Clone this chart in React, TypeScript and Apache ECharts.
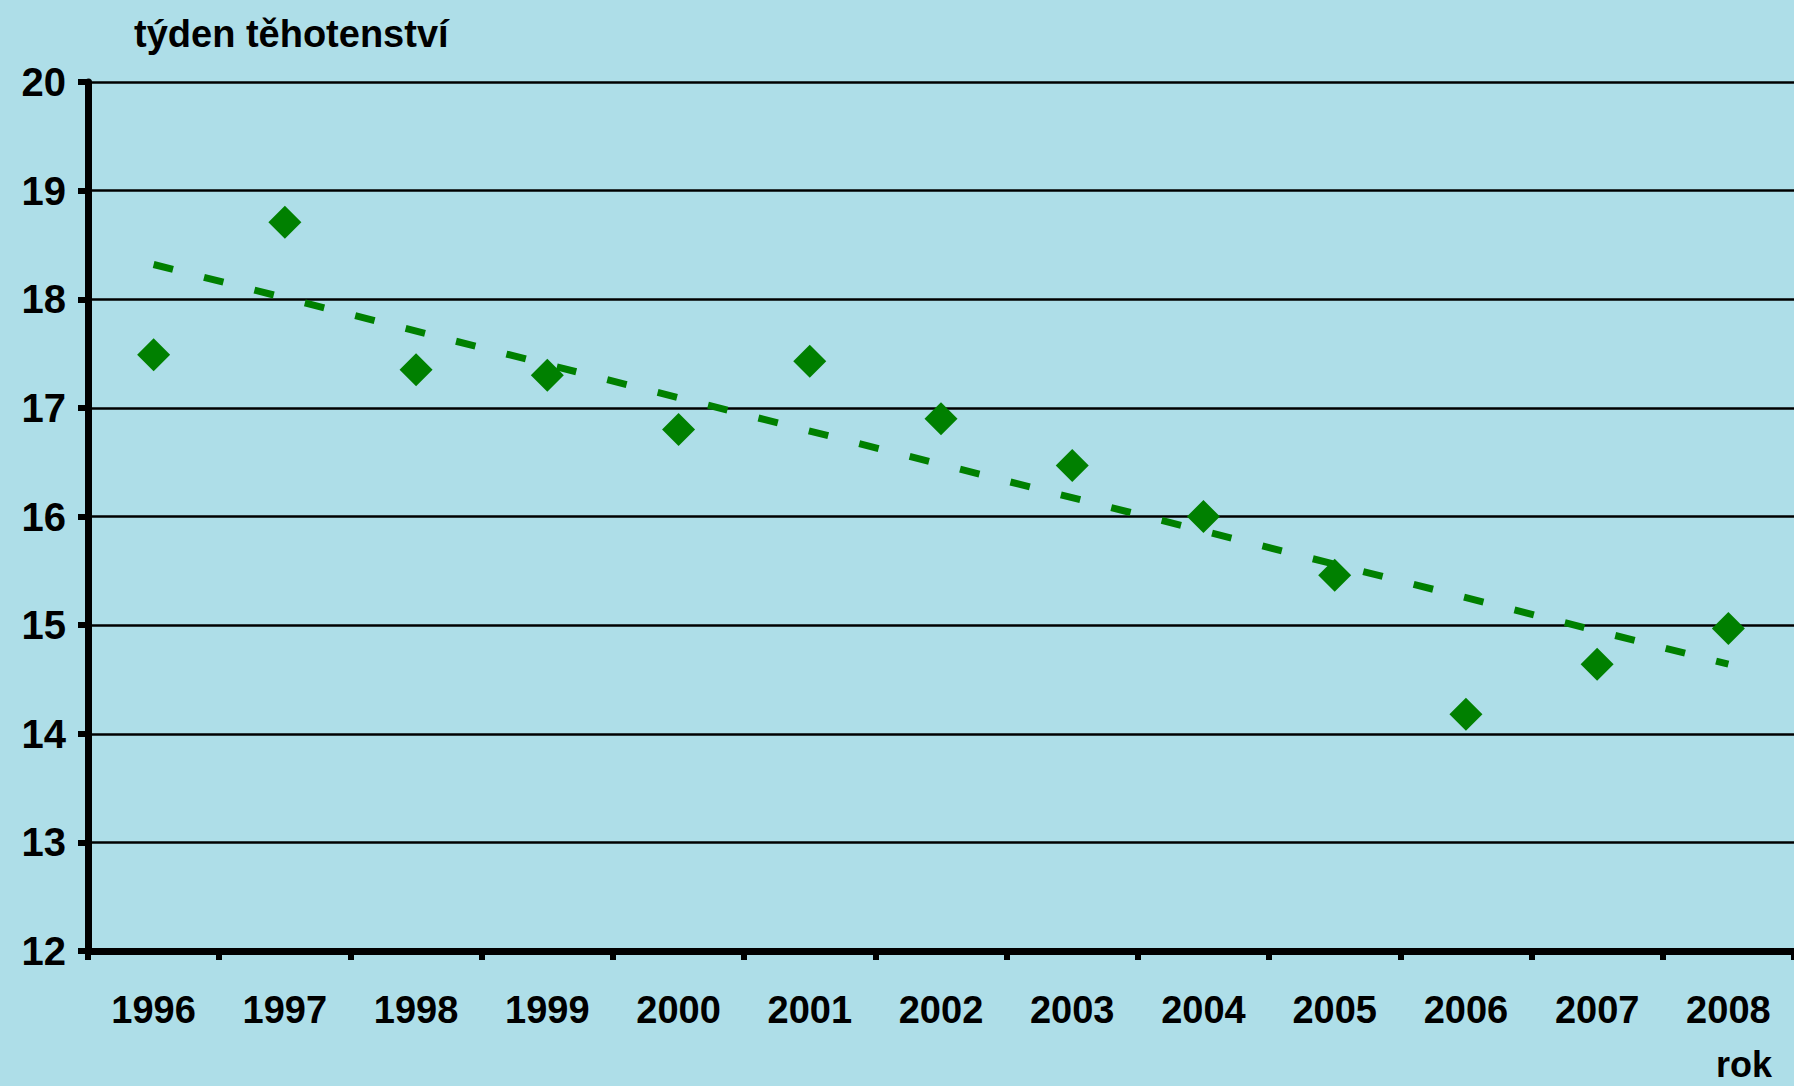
import React, { useEffect, useRef } from "react";
import * as echarts from "echarts";

const years = ["1996", "1997", "1998", "1999", "2000", "2001", "2002", "2003", "2004", "2005", "2006", "2007", "2008"];
const weeks = [17.49, 18.71, 17.35, 17.3, 16.8, 17.43, 16.9, 16.47, 16.0, 15.46, 14.18, 14.64, 14.97];
const trendStart = 18.32;
const trendEnd = 14.64;
const yMin = 12;
const yMax = 20;
const yStep = 1;
const yTitle = "týden těhotenství";
const xTitle = "rok";

const SANS = '"Liberation Sans", Arial, sans-serif';

export default function App() {
  const ref = useRef<HTMLDivElement>(null);
  useEffect(() => {
    document.body.style.margin = "0";
    const chart = echarts.init(ref.current!, null, { renderer: "svg" });
    chart.setOption({
      animation: false,
      backgroundColor: "#aedee8",
      grid: { left: 88, right: 0, top: 82, bottom: 135, containLabel: false },
      xAxis: {
        type: "category",
        data: years,
        boundaryGap: true,
        axisLine: { show: true, lineStyle: { color: "#000", width: 7 } },
        axisTick: { show: true, interval: 0, length: 9, lineStyle: { color: "#000", width: 6 } },
        axisLabel: { interval: 0, margin: 40, fontSize: 38, fontWeight: "bold", fontFamily: SANS, color: "#000" },
        splitLine: { show: false },
      },
      yAxis: {
        type: "value",
        min: yMin,
        max: yMax,
        interval: yStep,
        axisLine: { show: true, lineStyle: { color: "#000", width: 7 } },
        axisTick: { show: true, length: 10, lineStyle: { color: "#000", width: 6 } },
        axisLabel: { margin: 22, fontSize: 40, fontWeight: "bold", fontFamily: SANS, color: "#000" },
        splitLine: { show: true, lineStyle: { color: "#000", width: 2.5 } },
      },
      series: [
        {
          type: "line",
          data: [
            [0, trendStart],
            [years.length - 1, trendEnd],
          ],
          symbol: "none",
          lineStyle: { color: "#008000", width: 7, type: [20, 32] },
          z: 2,
        },
        {
          type: "scatter",
          data: weeks,
          symbol: "diamond",
          symbolSize: [33, 33],
          itemStyle: { color: "#008000", opacity: 1 },
          z: 3,
        },
      ],
      graphic: [
        {
          type: "text",
          left: 134,
          top: 15,
          style: { text: yTitle, font: `bold 38px ${SANS}`, fill: "#000" },
        },
        {
          type: "text",
          left: 1716,
          top: 1046,
          style: { text: xTitle, font: `bold 36px ${SANS}`, fill: "#000" },
        },
      ],
    });
    return () => chart.dispose();
  }, []);
  return <div ref={ref} style={{ position: "absolute", left: 0, top: 0, width: 1794, height: 1086 }} />;
}
